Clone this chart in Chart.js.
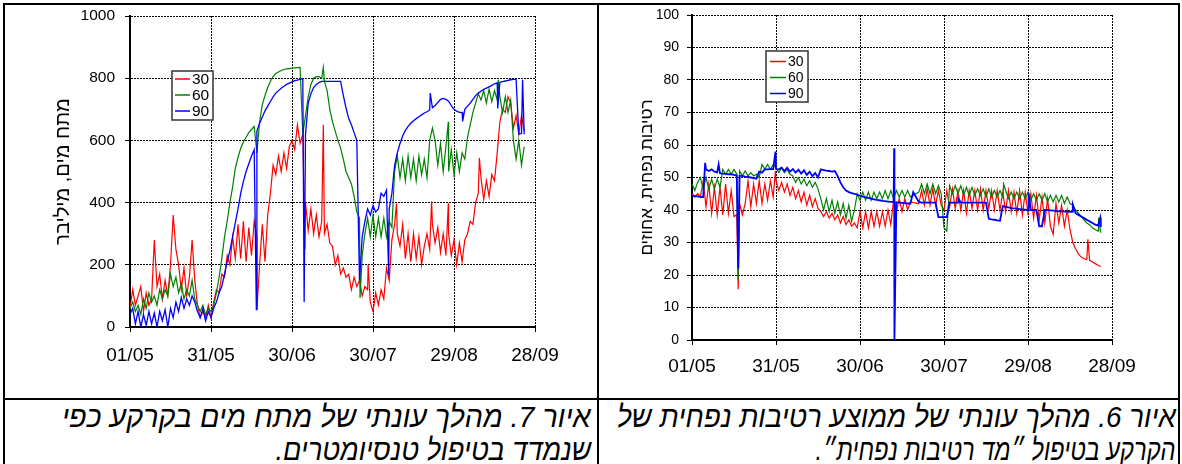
<!DOCTYPE html>
<html lang="he">
<head>
<meta charset="utf-8">
<script src="https://cdn.jsdelivr.net/npm/chart.js@4.4.1/dist/chart.umd.min.js"></script>
<style>
    body { margin: 0; width: 1182px; height: 464px; overflow: hidden; position: relative; background: #fff; }
    .ln { position: absolute; background: #000; }
    canvas { position: absolute; }
    .cap {
        position: absolute; direction: rtl; white-space: nowrap; transform-origin: right center;
        font-family: "Liberation Sans", Arial, sans-serif; font-style: italic;
        font-size: 30px; line-height: 33px; color: #000;
    }
</style>
</head>
<body>
<div class="ln" style="left:3px;top:3px;width:1177px;height:2px"></div>
<div class="ln" style="left:3px;top:3px;width:2px;height:461px"></div>
<div class="ln" style="left:1178px;top:3px;width:2px;height:461px"></div>
<div class="ln" style="left:597px;top:3px;width:2px;height:461px"></div>
<div class="ln" style="left:3px;top:398px;width:1177px;height:2px"></div>

<canvas id="tensionChart" width="592" height="393" style="left:5px;top:5px"></canvas>
<canvas id="moistureChart" width="578" height="393" style="left:600px;top:5px"></canvas>

<div class="cap" data-w="529" style="right:591px;top:400px">איור 7. מהלך עונתי של מתח מים בקרקע כפי</div>
<div class="cap" data-w="316" style="right:591px;top:433px">שנמדד בטיפול טנסיומטרים.</div>
<div class="cap" data-w="559" style="right:6px;top:400px">איור 6. מהלך עונתי של ממוצע רטיבות נפחית של</div>
<div class="cap" data-w="360" style="right:6px;top:433px">הקרקע בטיפול ״מד רטיבות נפחית״.</div>

<script>
// x = days since 01/05, one reading per day
const tickLabels = ['01/05', '31/05', '30/06', '30/07', '29/08', '28/09'];
const depthNames = ['30', '60', '90'];
const depthColors = ['#ff0000', '#008000', '#0000ff'];

// Fig. 7 - soil water tension (mbar)
const tension30 = [
    60, 120, 70, 100, 130, 50, 110, 70, 90, 280,
    130, 170, 90, 150, 100, 200, 360, 250, 200, 120,
    190, 100, 160, 280, 150, 70, 30, 50, 30, 70,
    30, 80, 120, 110, 170, 160, 230, 200, 290, 220,
    330, 220, 340, 210, 320, 230, 340, 290, 200, 330,
    210, 360, 430, 520, 490, 550, 500, 560, 510, 580,
    600, 570, 650, 590, 620, 400, 310, 380, 300, 360,
    290, 340, 300, 330, 270, 260, 200, 230, 170, 190,
    160, 170, 120, 160, 130, 150, 100, 130, 120, 80,
    50, 110, 70, 120, 90, 190, 150, 280, 330, 300,
    260, 330, 220, 300, 210, 300, 220, 290, 200, 260,
    300, 250, 330, 270, 320, 240, 300, 230, 300, 230,
    280, 200, 270, 210, 280, 300, 340, 330, 400, 430,
    480, 410, 470, 420, 490, 470, 560, 660, 700, 690,
    740, 720, 640, 680, 620, 680, 630
];
const tension60 = [
    60, 80, 50, 70, 40, 90, 60, 110, 80, 100,
    70, 120, 90, 120, 100, 170, 130, 160, 110, 140,
    90, 120, 100, 150, 90, 70, 50, 70, 40, 60,
    50, 70, 110, 160, 220, 290, 340, 400, 450, 510,
    545, 575, 595, 610, 625, 635, 645, 560, 660, 714,
    745, 770, 790, 805, 815, 820, 825, 828, 830, 831,
    832, 833, 834, 835, 620, 680, 740, 780, 800, 805,
    805, 800, 790, 760, 700, 660, 630, 600, 575, 540,
    500, 480, 460, 420, 370, 350, 230, 300, 350, 290,
    360, 290, 350, 290, 350, 290, 340, 320, 500, 550,
    480, 540, 470, 550, 480, 540, 470, 550, 490, 540,
    480, 600, 640, 600, 520, 590, 500, 580, 500, 570,
    490, 560, 500, 560, 540, 610, 650, 690, 720, 750,
    730, 760, 720, 765, 725, 760, 730, 740, 690, 740,
    690, 730, 600, 540, 600, 520, 580
];
const tension90 = [
    40, 60, 10, 50, 0, 40, 5, 50, 10, 45,
    0, 50, 20, 55, 0, 60, 30, 80, 50, 95,
    60, 90, 70, 100, 80, 50, 30, 60, 20, 50,
    30, 60, 80, 110, 130, 170, 210, 245, 290, 335,
    380, 430, 468, 500, 525, 550, 570, 630, 655, 675,
    695, 710, 725, 740, 752, 760, 768, 774, 780, 784,
    788, 792, 794, 797, 798, 620, 720, 750, 770, 780,
    786, 790, 790, 790, 790, 790, 790, 790, 790, 745,
    705, 670, 650, 625, 600, 150, 290, 340, 380, 360,
    390, 370, 380, 430, 420, 440, 380, 430, 520, 560,
    590, 615, 632, 645, 655, 663, 670, 676, 682, 688,
    692, 698, 705, 712, 722, 732, 735, 732, 726, 712,
    700, 694, 690, 690, 700, 710, 720, 732, 744, 752,
    758, 764, 768, 772, 777, 782, 785, 787, 789, 791,
    793, 795, 796, 797, 620, 622, 620
];
// short spikes between daily readings: [day, value]
const tensionSpikes30 = [[47, 56], [64.8, 250], [71.6, 650], [88.2, 200], [98.7, 398], [111.7, 404], [117.9, 398], [129.4, 543]];
const tensionSpikes60 = [[71.6, 835], [85.2, 93], [117.9, 660], [136.4, 795]];
const tensionSpikes90 = [[46.8, 56], [64.5, 80], [95.8, 168], [111.2, 752], [123.2, 661], [136.2, 703], [145.4, 795]];

// Fig. 6 - volumetric soil moisture (%)
const moisture30 = [
    45, 44, 45, 44, 49, 41, 48, 39, 47, 38.5,
    47, 38.5, 48, 39, 46, 38, 38.5, 42, 38.5, 42,
    49, 41, 48, 42, 49, 42, 48, 43, 49, 44,
    49, 46, 48.5, 45.5, 48, 44.5, 47, 43.5, 46, 42.5,
    45.5, 41.5, 44.5, 41, 43.5, 40.5, 39.5, 38, 39.5, 37.5,
    39, 37, 38.5, 36, 38, 35.5, 37, 35, 36, 34.5,
    39.5, 34.5, 39.5, 34.5, 39.5, 35, 39.5, 35, 39.5, 35,
    40, 35.5, 43, 39.5, 43.5, 39.5, 43.5, 40, 42.5, 42.3,
    42.1, 41.9, 46, 41.5, 46.5, 41.5, 46.5, 41.5, 46, 41.5,
    40, 46, 41, 46.5, 40.5, 46, 40, 46, 39, 46,
    40.5, 46, 40, 46.5, 40, 46, 40.5, 46, 40, 46,
    40, 45.5, 39.5, 46, 39.5, 45.5, 39, 46, 38.5, 45.5,
    39, 45, 37.5, 44.5, 37, 44, 36, 43.5, 35, 32.5,
    42, 36, 41.5, 35, 40, 34, 30, 28, 26.5, 25.5,
    25, 24.8, 24.5, 24, 23.5, 23, 22.6
];
const moisture60 = [
    48, 46, 48.5, 50, 46.5, 50, 46.5, 49.5, 46.5, 49.5,
    47, 52.5, 51, 52.5, 51, 52.5, 51, 52, 50.5, 52,
    50.5, 51.5, 50.5, 51, 50, 54, 52.5, 54, 52.5, 54,
    53, 51.5, 53, 51.5, 52.5, 51, 50.5, 48.5, 50, 48,
    49.5, 47.5, 49, 47, 48.5, 46.5, 43.5, 40, 43.5, 39.5,
    43, 39, 42.5, 38.5, 42, 37.5, 41.5, 36.5, 40, 45,
    43, 45.5, 43, 45.5, 43, 45.5, 43.5, 45.5, 43.5, 46,
    43.5, 46, 43.5, 46, 44, 46, 44, 46, 44, 44.5,
    45, 45.5, 48, 45, 48, 45, 48, 45, 47.5, 45,
    34.5, 33.5, 47.5, 45, 47.5, 45, 47.5, 44.5, 47, 44.5,
    47, 44.5, 46.5, 44.5, 46.5, 44, 46.5, 44, 46, 44,
    46, 44, 46, 43.5, 45.5, 43.5, 45.5, 43.5, 45.5, 43.5,
    45.5, 43, 45, 43, 45, 43, 45, 42.5, 44.5, 42.5,
    44.5, 42.5, 44.5, 42, 44, 42, 41.5, 40, 39, 38,
    37, 36, 35.5, 34.5, 34, 33.5, 33
];
const moisture90 = [
    44.5, 44.3, 44.2, 44, 44, 52.5, 52, 52.5, 51.8, 51.6,
    51.3, 51.2, 51.1, 51, 51, 50.8, 50.6, 50.5, 50.5, 50.3,
    50.2, 50, 49.8, 49.6, 51.8, 51.5, 52.5, 52.5, 52.6, 52.6,
    52.6, 52.5, 53, 52, 53, 51.8, 52.6, 51.5, 52.4, 51.2,
    52.2, 50.8, 51.8, 50.4, 51.4, 50, 52.5, 52.3, 52.1, 52,
    51.8, 52, 50.5, 48.5, 47, 46, 45.5, 45.2, 45, 44.7,
    44.4, 44.1, 43.9, 43.7, 43.5, 43.3, 43.1, 43, 42.8, 42.7,
    42.6, 42.5, 42.5, 42.4, 42.3, 42.2, 42.1, 42, 42, 45.5,
    44, 42.5, 42.3, 42.3, 42.3, 42.3, 42.3, 42.3, 37.8, 37.8,
    37.8, 37.8, 42.3, 42.3, 42.3, 42.3, 42.3, 42.3, 42.3, 42.3,
    42.3, 42.3, 42.3, 42.3, 42.3, 42.3, 37.3, 37.1, 37, 36.8,
    36.7, 41.2, 41, 40.8, 40.6, 40.5, 40.4, 40.3, 40.2, 40.1,
    40, 40, 40, 40, 35, 35, 40, 40, 39.9, 39.8,
    39.7, 39.6, 39.6, 39.5, 39.5, 39.4, 39.4, 39, 38.5, 38,
    37.5, 37, 36.5, 36, 35.5, 35.2, 34.8
];
const moistureSpikes30 = [[16.5, 15.6], [29.8, 52], [141.4, 31]];
const moistureSpikes60 = [[16.5, 18.5], [111.3, 48], [145.2, 37.6]];
const moistureSpikes90 = [[4.7, 54.5], [9.5, 54], [16.5, 22], [29.8, 58], [72.2, 59], [72.3, 0], [95.1, 43.5], [120.2, 45.3], [136, 41.7], [145.8, 37.6]];

function toPoints(values, spikes) {
    const pts = values.map((v, i) => ({ x: i, y: v }));
    spikes.forEach(s => pts.push({ x: s[0], y: s[1] }));
    return pts.sort((a, b) => a.x - b.x);
}

// legend box drawn inside the plot like the original
const boxLegend = {
    id: 'boxLegend',
    afterDraw(chart, args, o) {
        const ctx = chart.ctx;
        ctx.save();
        ctx.fillStyle = '#fff';
        ctx.fillRect(o.x, o.y, o.w, o.h);
        ctx.strokeStyle = '#333';
        ctx.lineWidth = 1.5;
        ctx.strokeRect(o.x, o.y, o.w, o.h);
        ctx.font = o.size + 'px "Liberation Sans", Arial, sans-serif';
        ctx.textBaseline = 'middle';
        chart.data.datasets.forEach((ds, i) => {
            const cy = o.rowTop + i * o.rowStep;
            ctx.strokeStyle = ds.borderColor;
            ctx.lineWidth = 1.5;
            ctx.beginPath();
            ctx.moveTo(o.lineFrom, cy);
            ctx.lineTo(o.lineTo, cy);
            ctx.stroke();
            ctx.fillStyle = '#000';
            ctx.fillText(ds.label, o.textX, cy + 1);
        });
        ctx.restore();
    }
};

Chart.defaults.font.family = '"Liberation Sans", Arial, sans-serif';
Chart.defaults.color = '#000';

function buildChart(id, c) {
    const ctx = document.getElementById(id).getContext('2d');
    return new Chart(ctx, {
        type: 'line',
        data: {
            datasets: c.series.map((pts, i) => ({
                label: depthNames[i],
                data: pts,
                borderColor: depthColors[i],
                borderWidth: c.widths[i],
                pointRadius: 0,
                tension: 0,
                order: 2 - i
            }))
        },
        options: {
            responsive: false,
            animation: false,
            layout: { padding: { top: c.top, right: c.right, left: 0, bottom: 0 } },
            plugins: { legend: { display: false }, tooltip: { enabled: false }, boxLegend: c.legend },
            scales: {
                x: {
                    type: 'linear', min: 0, max: 150,
                    afterFit: s => { s.height = c.xHeight; s.paddingLeft = 0; s.paddingRight = 0; },
                    ticks: { stepSize: 30, callback: v => tickLabels[v / 30], font: { size: 19 }, padding: c.xPad, maxRotation: 0, autoSkip: false },
                    grid: { color: '#000', tickLength: 5, tickColor: '#000' },
                    border: { color: '#000', width: 2, dash: [2, 1] }
                },
                y: {
                    min: 0, max: c.yMax,
                    afterFit: s => { s.width = c.yWidth; s.paddingTop = 0; s.paddingBottom = 0; },
                    ticks: { stepSize: c.yStep, callback: v => String(v), font: { size: c.yFont }, padding: c.yPad },
                    grid: { color: '#000', tickLength: 5, tickColor: '#000' },
                    border: { color: '#000', width: 2, dash: [2, 1] },
                    title: { display: true, text: c.yTitle, font: { size: c.titleSize }, padding: { top: c.titlePad, bottom: 0 } }
                }
            }
        },
        plugins: [boxLegend]
    });
}

buildChart('tensionChart', {
    series: [toPoints(tension30, tensionSpikes30), toPoints(tension60, tensionSpikes60), toPoints(tension90, tensionSpikes90)],
    widths: [1.2, 1.2, 1.3],
    top: 11, right: 62, xHeight: 71, xPad: 12,
    yMax: 1000, yStep: 200, yWidth: 125, yFont: 15.5, yPad: 10,
    yTitle: 'מתח מים, מיליבר', titleSize: 20, titlePad: 46,
    legend: { x: 167, y: 66, w: 41, h: 49, rowTop: 74, rowStep: 16, lineFrom: 170, lineTo: 185, textX: 187, size: 15.5 }
});

buildChart('moistureChart', {
    series: [toPoints(moisture30, moistureSpikes30), toPoints(moisture60, moistureSpikes60), toPoints(moisture90, moistureSpikes90)],
    widths: [1.2, 1.2, 1.8],
    top: 10, right: 66, xHeight: 58, xPad: 10,
    yMax: 100, yStep: 10, yWidth: 92, yFont: 14, yPad: 8,
    yTitle: 'רטיבות נפחית, אחוזים', titleSize: 17, titlePad: 37,
    legend: { x: 166, y: 46, w: 42, h: 51, rowTop: 56.5, rowStep: 16, lineFrom: 170, lineTo: 186, textX: 188, size: 14 }
});

// squeeze each caption line to the width it has in the original
document.querySelectorAll('.cap').forEach(el => {
    const w = el.getBoundingClientRect().width;
    el.style.transform = 'scaleX(' + (Number(el.dataset.w) / w) + ')';
});
</script>
</body>
</html>
